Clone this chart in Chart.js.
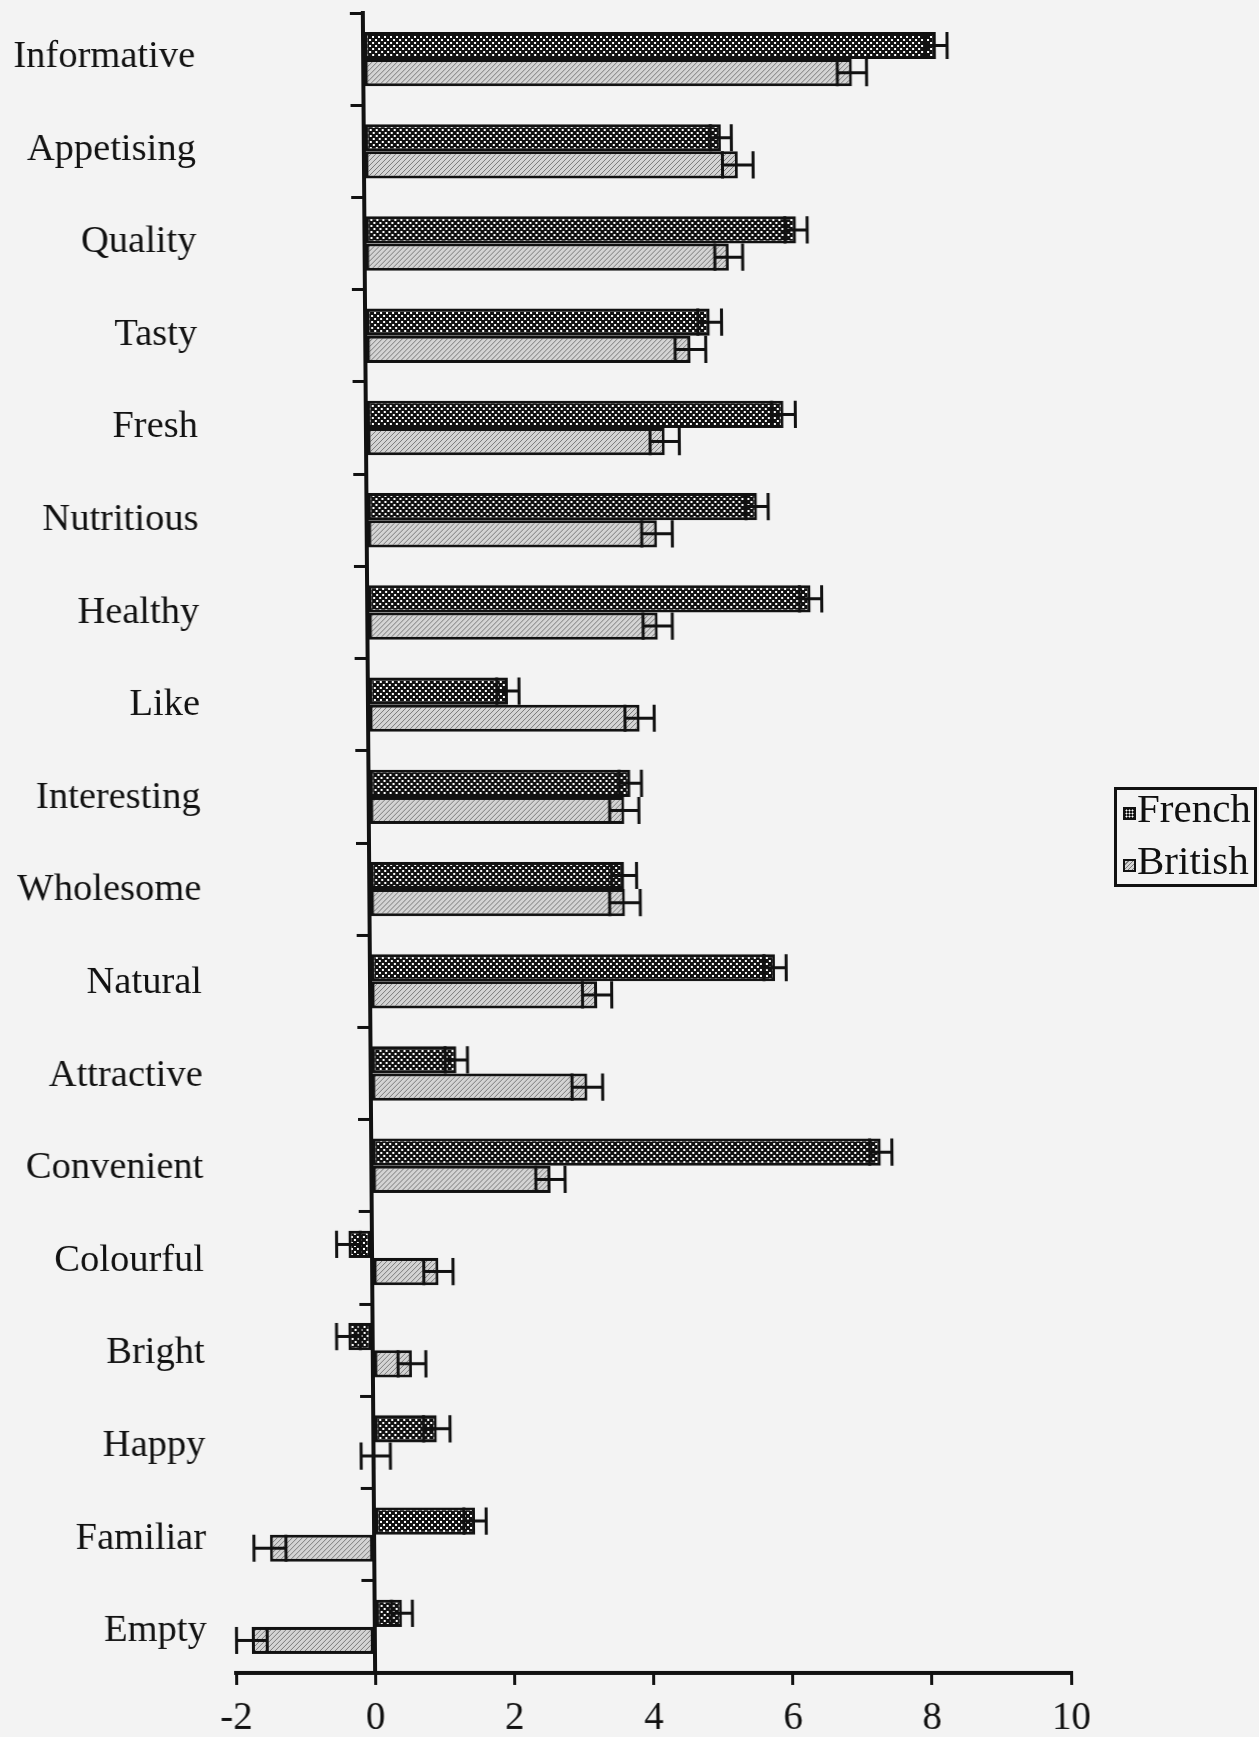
<!DOCTYPE html>
<html lang="en">
<head>
    <meta charset="UTF-8">
    <title>French vs British ratings</title>
    <script src="https://cdn.jsdelivr.net/npm/chart.js"></script>
    <style>
        html, body { margin: 0; padding: 0; background: #f3f3f3; }
        body { width: 1259px; height: 1737px; position: relative; overflow: hidden;
               font-family: 'Liberation Serif', 'Times New Roman', serif; color: #111; }
        /* the scan leans a little, so the plot does too */
        .chart-wrap { position: absolute; left: 0; top: 0; width: 1259px; height: 1737px;
                      transform-origin: 369px 845px; transform: matrix(1, 0, 0.0074, 1, 0, 0); }
        .legend-box { position: absolute; left: 1114px; top: 787px; width: 143px; height: 100px;
                      box-sizing: border-box; border: 3px solid #111; }
        .legend-row { position: absolute; left: 1123px; height: 46px; line-height: 46px; font-size: 41px; white-space: nowrap; }
        .legend-row .sw { display: inline-block; width: 13px; height: 13px; box-sizing: border-box;
                          border: 2px solid #111; margin-right: 1px; vertical-align: 2px; }
        .sw.french { background-color: #111;
                     background-image: radial-gradient(circle, #fff 0.8px, transparent 1.2px);
                     background-size: 3px 3px; }
        .sw.british { background: repeating-linear-gradient(135deg, #d4d4d4 0 2px, #7a7a7a 2px 3px); }
    </style>
</head>
<body>
    <div class="chart-wrap">
        <canvas id="ratingChart" width="1259" height="1737"></canvas>
    </div>
    <div class="legend-box"></div>
    <div class="legend-row" style="top:785px"><span class="sw french"></span>French</div>
    <div class="legend-row" style="top:837px"><span class="sw british"></span>British</div>

    <script>
        // data
        const categories = ['Informative', 'Appetising', 'Quality', 'Tasty', 'Fresh', 'Nutritious',
            'Healthy', 'Like', 'Interesting', 'Wholesome', 'Natural', 'Attractive', 'Convenient',
            'Colourful', 'Bright', 'Happy', 'Familiar', 'Empty'];
        const frenchValues = [8.23, 5.13, 6.20, 4.95, 6.00, 5.61, 6.37, 2.01, 3.76, 3.66, 5.82, 1.23, 7.32,
            -0.34, -0.35, 0.91, 1.45, 0.39];
        const britishValues = [7.02, 5.37, 5.23, 4.67, 4.29, 4.17, 4.17, 3.90, 3.67, 3.67, 3.26, 3.11, 2.57,
            0.95, 0.56, 0.03, -1.50, -1.77];
        const frenchErrors = [0.16, 0.15, 0.16, 0.17, 0.17, 0.16, 0.16, 0.16, 0.16, 0.18, 0.16, 0.16, 0.16,
            0.17, 0.17, 0.19, 0.16, 0.15];
        const britishErrors = [0.21, 0.22, 0.20, 0.22, 0.21, 0.22, 0.21, 0.21, 0.21, 0.22, 0.21, 0.22, 0.21,
            0.21, 0.20, 0.21, 0.23, 0.22];
        const xMin = -2, xMax = 10, xStep = 2;

        const serif = "'Liberation Serif', 'Times New Roman', serif";
        const ink = '#111';

        // fill patterns
        function makePattern(size, draw) {
            const c = document.createElement('canvas');
            c.width = size; c.height = size;
            draw(c.getContext('2d'));
            return c.getContext('2d').createPattern(c, 'repeat');
        }
        const frenchFill = makePattern(6, g => {
            g.fillStyle = '#111'; g.fillRect(0, 0, 6, 6);
            g.fillStyle = '#fff'; g.fillRect(0, 0, 2, 2); g.fillRect(3, 3, 2, 2);
        });
        const britishFill = makePattern(5, g => {
            g.fillStyle = '#d4d4d4'; g.fillRect(0, 0, 5, 5);
            g.strokeStyle = '#7a7a7a'; g.lineWidth = 1;
            g.beginPath(); g.moveTo(0, 5); g.lineTo(5, 0); g.stroke();
        });

        // draws +/- error whiskers on every bar
        const errorBars = {
            id: 'errorBars',
            afterDatasetsDraw(chart) {
                const ctx = chart.ctx;
                const xs = chart.scales.x;
                ctx.save();
                ctx.strokeStyle = ink;
                ctx.lineWidth = 3;
                chart.data.datasets.forEach((ds, i) => {
                    chart.getDatasetMeta(i).data.forEach((bar, j) => {
                        const v = ds.data[j], e = ds.errors[j];
                        const lo = xs.getPixelForValue(v - e);
                        const hi = xs.getPixelForValue(v + e);
                        const y = bar.y, h = bar.height * 0.5;
                        ctx.beginPath();
                        ctx.moveTo(lo, y); ctx.lineTo(hi, y);
                        ctx.moveTo(lo, y - h); ctx.lineTo(lo, y + h);
                        ctx.moveTo(hi, y - h); ctx.lineTo(hi, y + h);
                        ctx.stroke();
                    });
                });
                ctx.restore();
            }
        };

        new Chart(document.getElementById('ratingChart'), {
            type: 'bar',
            data: {
                labels: categories,
                datasets: [{
                    label: 'French',
                    data: frenchValues,
                    errors: frenchErrors,
                    backgroundColor: frenchFill
                }, {
                    label: 'British',
                    data: britishValues,
                    errors: britishErrors,
                    backgroundColor: britishFill
                }]
            },
            options: {
                indexAxis: 'y',
                responsive: false,
                animation: false,
                devicePixelRatio: 1,
                categoryPercentage: 0.59,
                barPercentage: 1.0,
                datasets: {
                    bar: { borderColor: ink, borderWidth: 3, borderSkipped: false }
                },
                layout: { padding: { top: 13, right: 194, bottom: 0, left: 0 } },
                plugins: { legend: { display: false }, tooltip: { enabled: false } },
                scales: {
                    x: {
                        type: 'linear',
                        min: xMin,
                        max: xMax,
                        ticks: { stepSize: xStep, color: ink, font: { family: serif, size: 39 }, padding: 10 },
                        grid: { display: true, drawOnChartArea: false, drawTicks: true, tickLength: 12, color: ink, lineWidth: 3 },
                        border: { display: true, color: ink, width: 4 },
                        afterFit(s) { s.height = 64; s.paddingLeft = 0; s.paddingRight = 0; }
                    },
                    // the value axis line sits at zero
                    y: {
                        type: 'category',
                        position: { x: 0 },
                        offset: true,
                        grid: { display: true, offset: true, drawOnChartArea: false, drawTicks: true, tickLength: 11, color: ink, lineWidth: 3 },
                        border: { display: true, color: ink, width: 4 },
                        ticks: { display: false },
                        afterFit(s) { s.paddingTop = 0; s.paddingBottom = 0; }
                    },
                    // category names on the far left; their spacing in the scan is a touch wider than the bars'
                    y2: {
                        type: 'linear',
                        position: 'left',
                        reverse: true,
                        offset: false,
                        bounds: 'data',
                        min: -0.475,
                        max: 17.452,
                        afterBuildTicks(s) { s.ticks = categories.map((c, i) => ({ value: i })); },
                        grid: { display: false, drawTicks: false },
                        border: { display: false },
                        ticks: {
                            color: ink,
                            font: { family: serif, size: 38.5 },
                            padding: 29,
                            callback: (v, i) => categories[i]
                        },
                        afterFit(s) { s.width = 230; s.paddingTop = 0; s.paddingBottom = 0; }
                    }
                }
            },
            plugins: [errorBars]
        });
    </script>
</body>
</html>
